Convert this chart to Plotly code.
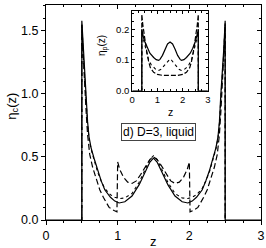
import plotly.graph_objects as go

# ---------------- main panel data: eta_c(z) ----------------
z_solid = [0.0, 0.5, 0.5, 0.52, 0.54, 0.56, 0.58, 0.60, 0.63, 0.67, 0.72, 0.77, 0.82, 0.90, 0.96, 1.02,
           1.10, 1.20, 1.30, 1.40, 1.45, 1.50, 1.55, 1.60, 1.70, 1.80, 1.90, 1.98, 2.04, 2.10, 2.18,
           2.23, 2.28, 2.33, 2.37, 2.40, 2.42, 2.44, 2.46, 2.48, 2.5, 2.5, 3.0]
eta_solid = [0.0, 0.0, 1.58, 1.35, 1.15, 1.00, 0.78, 0.66, 0.57, 0.49, 0.39, 0.31, 0.24, 0.18, 0.15, 0.135,
             0.145, 0.19, 0.28, 0.40, 0.46, 0.49, 0.46, 0.40, 0.28, 0.19, 0.145, 0.135, 0.15, 0.18, 0.24,
             0.31, 0.39, 0.49, 0.57, 0.66, 0.78, 1.00, 1.15, 1.35, 1.58, 0.0, 0.0]

z_dashed = [0.5, 0.5, 0.52, 0.54, 0.56, 0.58, 0.61, 0.65, 0.70, 0.75, 0.80, 0.88, 0.95, 0.99, 1.0,
            1.03, 1.08, 1.14, 1.20, 1.26, 1.32, 1.40, 1.45, 1.50, 1.55, 1.60, 1.68, 1.74, 1.80, 1.86,
            1.92, 1.97, 2.0, 2.01, 2.05, 2.12, 2.20, 2.25, 2.30, 2.35, 2.39, 2.42, 2.44, 2.46, 2.48, 2.5, 2.5]
eta_dashed = [0.0, 1.55, 1.30, 1.05, 0.86, 0.68, 0.52, 0.42, 0.33, 0.24, 0.18, 0.10, 0.075, 0.065, 0.46,
              0.40, 0.34, 0.30, 0.29, 0.31, 0.36, 0.44, 0.48, 0.50, 0.48, 0.44, 0.36, 0.31, 0.29, 0.30,
              0.34, 0.40, 0.46, 0.065, 0.075, 0.10, 0.18, 0.24, 0.33, 0.42, 0.52, 0.68, 0.86, 1.05, 1.30, 1.55, 0.0]

z_dotted = [0.5, 0.5, 0.52, 0.54, 0.56, 0.58, 0.60, 0.63, 0.67, 0.72, 0.77, 0.82, 0.90, 0.96, 1.02,
            1.10, 1.20, 1.30, 1.40, 1.45, 1.50, 1.55, 1.60, 1.70, 1.80, 1.90, 1.98, 2.04, 2.10, 2.18,
            2.23, 2.28, 2.33, 2.37, 2.40, 2.42, 2.44, 2.46, 2.48, 2.5, 2.5]
eta_dotted = [0.0, 1.56, 1.32, 1.12, 0.97, 0.76, 0.65, 0.56, 0.48, 0.38, 0.31, 0.25, 0.20, 0.18, 0.17,
              0.175, 0.21, 0.30, 0.42, 0.48, 0.51, 0.48, 0.42, 0.30, 0.21, 0.175, 0.17, 0.18, 0.20, 0.25,
              0.31, 0.38, 0.48, 0.56, 0.65, 0.76, 0.97, 1.12, 1.32, 1.56, 0.0]

# ---------------- inset data: eta_p(z) ----------------
zi_solid = [0.0, 0.38, 0.38, 0.40, 0.45, 0.50, 0.60, 0.70, 0.85, 0.95, 1.05, 1.10, 1.20, 1.30, 1.40, 1.50,
            1.60, 1.70, 1.80, 1.90, 1.95, 2.05, 2.15, 2.30, 2.40, 2.50, 2.55, 2.60, 2.62, 2.62, 3.0]
etai_solid = [0.0, 0.0, 0.200, 0.190, 0.172, 0.160, 0.138, 0.122, 0.108, 0.101, 0.099, 0.102, 0.115, 0.135, 0.152, 0.158,
              0.152, 0.135, 0.115, 0.102, 0.099, 0.101, 0.108, 0.122, 0.138, 0.160, 0.172, 0.190, 0.200, 0.0, 0.0]

zi_dashed = [0.38, 0.38, 0.42, 0.48, 0.55, 0.65, 0.72, 0.85, 1.00, 1.20, 1.35, 1.50,
             1.65, 1.80, 2.00, 2.15, 2.28, 2.35, 2.45, 2.52, 2.58, 2.62, 2.62]
etai_dashed = [0.0, 0.248, 0.215, 0.175, 0.140, 0.095, 0.075, 0.060, 0.053, 0.050, 0.050, 0.052,
               0.050, 0.050, 0.053, 0.060, 0.075, 0.095, 0.140, 0.175, 0.215, 0.248, 0.0]

zi_dotted = [0.38, 0.38, 0.45, 0.55, 0.65, 0.75, 0.85, 0.95, 1.05, 1.15, 1.25, 1.35, 1.45, 1.50,
             1.55, 1.65, 1.75, 1.85, 1.95, 2.05, 2.15, 2.25, 2.35, 2.45, 2.55, 2.62, 2.62]
etai_dotted = [0.0, 0.190, 0.165, 0.130, 0.100, 0.085, 0.075, 0.068, 0.066, 0.070, 0.080, 0.090, 0.100, 0.103,
               0.100, 0.090, 0.080, 0.070, 0.066, 0.068, 0.075, 0.085, 0.100, 0.130, 0.165, 0.190, 0.0]

main_xticks = [0, 1, 2, 3]
main_yticks = [0.0, 0.5, 1.0, 1.5]
main_yticklabels = ["0.0", "0.5", "1.0", "1.5"]
inset_xticks = [0, 1, 2, 3]
inset_yticks = [0.0, 0.1, 0.2]
inset_yticklabels = ["0.0", "0.1", "0.2"]

FONT = "Liberation Sans, Arial, sans-serif"
LC = "black"

fig = go.Figure()

def add(x, y, dash, width, xa="x", ya="y"):
    fig.add_trace(go.Scatter(x=x, y=y, mode="lines", xaxis=xa, yaxis=ya,
                             line=dict(color=LC, width=width, dash=dash),
                             showlegend=False, hoverinfo="skip"))

add(z_dotted, eta_dotted, "dot", 1.1)
add(z_dashed, eta_dashed, "6px,3px", 1.2)
add(z_solid, eta_solid, "solid", 1.2)

add(zi_dotted, etai_dotted, "dot", 1.1, "x2", "y2")
add(zi_dashed, etai_dashed, "5px,2px", 1.2, "x2", "y2")
add(zi_solid, etai_solid, "solid", 1.2, "x2", "y2")

# dummy traces so the mirrored (top/right) inside-tick axes are drawn
fig.add_trace(go.Scatter(x=[None], y=[None], xaxis="x3", yaxis="y", showlegend=False, hoverinfo="skip"))
fig.add_trace(go.Scatter(x=[None], y=[None], xaxis="x", yaxis="y3", showlegend=False, hoverinfo="skip"))

YMAX = 1.705
tickfont = dict(family=FONT, size=12.5, color="black")
ifont = dict(family=FONT, size=9.5, color="black")

fig.update_layout(
    width=266, height=248,
    margin=dict(l=46, r=5, t=5, b=28, autoexpand=False),
    paper_bgcolor="white", plot_bgcolor="white",
    font=dict(family=FONT, color="black"),
    xaxis=dict(domain=[0, 1], range=[0, 3], tickvals=main_xticks, ticks="outside", ticklen=4,
               tickwidth=1, tickcolor=LC, showline=True, linecolor=LC, linewidth=1, mirror=True,
               showgrid=False, zeroline=False, tickfont=tickfont, automargin=False,
               minor=dict(dtick=0.25, tick0=0, ticks="outside", ticklen=2, tickcolor=LC, showgrid=False)),
    yaxis=dict(domain=[0, 1], range=[0, YMAX], tickvals=main_yticks, ticktext=main_yticklabels,
               ticks="outside", ticklen=4, tickwidth=1, tickcolor=LC, showline=True, linecolor=LC,
               linewidth=1, mirror=True, showgrid=False, zeroline=False, tickfont=tickfont, automargin=False,
               minor=dict(dtick=0.1, tick0=0, ticks="outside", ticklen=2, tickcolor=LC, showgrid=False)),
    xaxis3=dict(overlaying="x", side="top", anchor="y", range=[0, 3], tickvals=main_xticks,
                ticks="inside", ticklen=4, tickcolor=LC, showticklabels=False, showline=False,
                showgrid=False, zeroline=False, automargin=False,
                minor=dict(dtick=0.25, tick0=0, ticks="inside", ticklen=2, tickcolor=LC, showgrid=False)),
    yaxis3=dict(overlaying="y", side="right", anchor="x", range=[0, YMAX], tickvals=main_yticks,
                ticks="inside", ticklen=4, tickcolor=LC, showticklabels=False, showline=False,
                showgrid=False, zeroline=False, automargin=False,
                minor=dict(dtick=0.1, tick0=0, ticks="inside", ticklen=2, tickcolor=LC, showgrid=False)),
    xaxis2=dict(domain=[0.401, 0.753], anchor="y2", range=[0, 3], tickvals=inset_xticks,
                ticks="inside", ticklen=3, tickcolor=LC, showline=True, linecolor=LC, linewidth=1,
                mirror="ticks", showgrid=False, zeroline=False, tickfont=ifont,
                minor=dict(dtick=0.25, tick0=0, ticks="inside", ticklen=2, tickcolor=LC, showgrid=False)),
    yaxis2=dict(domain=[0.601, 0.9735], anchor="x2", range=[0, 0.26], tickvals=inset_yticks,
                ticktext=inset_yticklabels, ticks="inside", ticklen=3, tickcolor=LC, showline=True,
                linecolor=LC, linewidth=1, mirror="ticks", showgrid=False, zeroline=False, tickfont=ifont,
                minor=dict(dtick=0.025, tick0=0, ticks="inside", ticklen=2, tickcolor=LC, showgrid=False)),
)

annots = [
    dict(text="η<sub>c</sub>(z)", x=-0.16, y=0.53, xref="paper", yref="paper", textangle=-90,
         showarrow=False, font=dict(family=FONT, size=13, color="black"), xanchor="center", yanchor="middle"),
    dict(text="z", x=0.498, y=-0.102, xref="paper", yref="paper", showarrow=False,
         font=dict(family=FONT, size=13, color="black"), xanchor="center", yanchor="middle"),
    dict(text="η<sub>p</sub>(z)", x=0.265, y=0.814, xref="paper", yref="paper", textangle=-90,
         showarrow=False, font=dict(family=FONT, size=10, color="black"), xanchor="center", yanchor="middle"),
    dict(text="z", x=0.577, y=0.504, xref="paper", yref="paper", showarrow=False,
         font=dict(family=FONT, size=10.5, color="black"), xanchor="center", yanchor="middle"),
    dict(text="d) D=3, liquid", x=0.524, y=0.411, xref="paper", yref="paper", showarrow=False,
         font=dict(family=FONT, size=12, color="black"), xanchor="center", yanchor="middle",
         bordercolor="#444", borderwidth=1, borderpad=1, bgcolor="white"),
]
fig.update_layout(annotations=annots)

fig.write_html("out.html", config={"displayModeBar": False, "staticPlot": True},
               post_script="document.body.style.margin='0px';document.body.style.padding='0px';document.body.style.overflow='hidden';")
